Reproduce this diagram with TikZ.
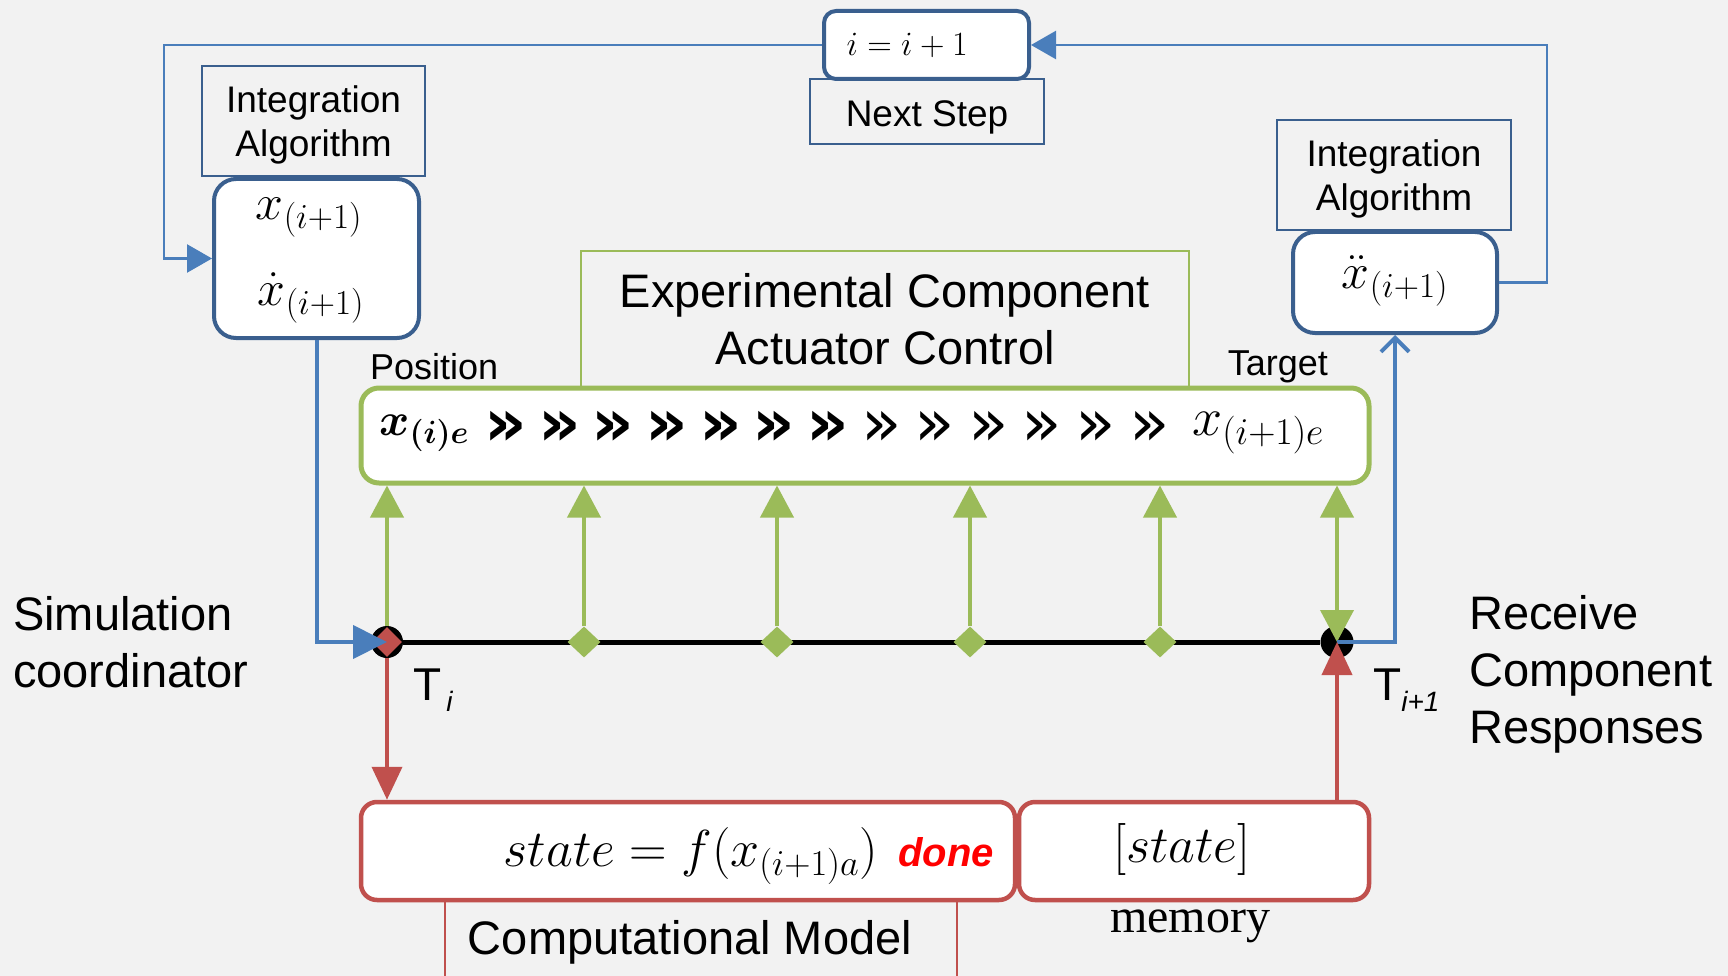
\RequirePackage{fix-cm}
\documentclass[tikz,border=0pt]{standalone}
\usepackage{amsmath}
\usepackage{bm}
\usepackage{fontspec}
\setmainfont{Liberation Sans}
\newfontfamily\seriffont{Liberation Serif}
\newfontfamily\chevfont{DejaVu Sans}
\usetikzlibrary{arrows.meta,shapes.geometric}
\definecolor{bgc}{HTML}{F2F2F2}
\definecolor{dblue}{HTML}{3A5F8E}
\definecolor{lblue}{HTML}{4A7EBB}
\definecolor{grn}{HTML}{9BBB59}
\definecolor{rd}{HTML}{C0504D}
\definecolor{donered}{HTML}{FF0000}
\tikzset{
  rbox/.style={draw=dblue, line width=4pt, fill=white, rounded corners=22pt, inner sep=0pt},
  sqbox/.style={draw=dblue, line width=2pt, inner sep=0pt, align=center, font=\fontsize{37}{44}\selectfont},
  gbox/.style={draw=grn, line width=5pt, fill=white, rounded corners=18pt, inner sep=0pt},
  redbox/.style={draw=rd, line width=4.5pt, fill=white, rounded corners=16pt, inner sep=0pt},
  bline/.style={draw=lblue, line width=2.5pt},
  barrow/.style={bline, -{Triangle[length=25pt,width=28pt]}},
  garrow/.style={draw=grn, line width=4pt, -{Triangle[length=32pt,width=33pt]}},
  rarrow/.style={draw=rd, line width=4pt, -{Triangle[length=33pt,width=30pt]}},
  big/.style={font=\fontsize{47}{57}\selectfont},
  mid/.style={font=\fontsize{36}{42}\selectfont},
  bigmath/.style={font=\fontsize{50}{56}\selectfont, inner sep=0pt},
  chev/.style={inner sep=0pt},
}
\begin{document}
\begin{tikzpicture}[x=1pt,y=-1pt]
\clip (0,0) rectangle (1728,976);
\fill[bgc] (0,0) rectangle (1728,976);

% top: next step
\node[sqbox, minimum width=234pt, minimum height=65pt] (next) at (927,111.5) {};
\node[font=\fontsize{37}{44}\selectfont] (nextt) at (927,117) {Next Step};
\node[rbox, rounded corners=12pt, minimum width=205pt, minimum height=68pt, text width=160pt, align=left, font=\fontsize{34}{40}\selectfont] (inc) at (926.5,45) {$i=i+1$};

% left integration
\node[sqbox, minimum width=223pt, minimum height=110pt] (intL) at (313.5,121) {};
\node[sqbox, draw=none] (intLt) at (313.5,125) {Integration\\Algorithm};
\node[rbox, minimum width=205pt, minimum height=159pt] (boxL) at (316.5,258.5) {};
\node[bigmath] (xL) at (309,218) {$x_{(i+1)}$};
\node[bigmath] (xdL) at (311,298) {$\dot{x}_{(i+1)}$};

% right integration
\node[sqbox, minimum width=234pt, minimum height=110pt] (intR) at (1394,175) {};
\node[sqbox, draw=none] (intRt) at (1394,179) {Integration\\Algorithm};
\node[rbox, minimum width=204pt, minimum height=101pt] (boxR) at (1395,282.5) {};
\node[bigmath] (xddR) at (1395,281) {$\ddot{x}_{(i+1)}$};

% feedback loop
\draw[barrow] (boxR.east) -- ++(48,0) |- (inc.east);
\draw[barrow] (inc.west) -- ++(-658,0) |- (boxL.west);

% experimental component
\node[draw=grn, line width=1.5pt, minimum width=608pt, minimum height=137pt, align=center, big] (exp) at (885,319.5) {Experimental Component\\Actuator Control};
\node[mid, anchor=west, inner sep=0pt] (pos) at (370,367) {Position};
\node[mid, anchor=east, inner sep=0pt] (tgt) at (1328,367) {Target};
\node[gbox, minimum width=1008pt, minimum height=95pt] (gb) at (865,435.5) {};
\node[font=\fontsize{46}{50}\selectfont, anchor=west, inner sep=0pt] (xie) at (379,433) {$\bm{x}_{\bm{(i)e}}$};
\node[font=\fontsize{54}{58}\selectfont, anchor=west, inner sep=0pt] (xi1e) at (1192,433) {$x_{(i+1)e}$};
\foreach \k in {1,...,7}
  \node[chev, font=\fontsize{66}{70}\chevfont\bfseries] (ch\k) at ({506+53.6*(\k-1)},428) {»};
\foreach \k in {8,...,13}
  \node[chev, font=\fontsize{66}{70}\chevfont] (ch\k) at ({506+53.6*(\k-1)},428) {»};

% computational model frame
\node[draw=rd, line width=1.5pt, minimum width=512pt, minimum height=110pt, inner sep=0pt] (cmf) at (701,955) {};
\node[big] (cmt) at (690,942) {Computational Model};

% red boxes
\node[redbox, minimum width=654pt, minimum height=98pt] (comp) at (688,851) {};
\node[redbox, minimum width=350pt, minimum height=98pt] (mem) at (1194,851) {};
\node[font=\fontsize{52}{56}\selectfont, anchor=base east, inner sep=0pt] (eq) at (878,866) {$state = f(x_{(i+1)a})$};
\node[font=\fontsize{40}{44}\selectfont\bfseries\itshape, text=donered, anchor=base west, inner sep=0pt] (done) at (898,866) {done};
\node[font=\fontsize{52}{56}\selectfont, anchor=base, inner sep=0pt] (st) at (1182,862) {$[state]$};
\node[font=\fontsize{48}{52}\seriffont, anchor=base, inner sep=0pt] (memt) at (1190,932) {memory};

% timeline
\node[circle, fill=black, minimum size=32pt, inner sep=0pt] (Ti) at (387,642) {};
\node[diamond, fill=rd, minimum width=30pt, minimum height=30pt, inner sep=0pt] (Tid) at (387,642) {};
\node[ellipse, fill=black, minimum width=33pt, minimum height=32pt, inner sep=0pt] (Ti1) at (1337,642) {};
\draw[line width=5pt] (Ti.east) -- (Ti1.west);
\foreach \n/\x in {d1/584, d2/777, d3/970, d4/1160}
  \node[diamond, fill=grn, minimum width=33pt, minimum height=31pt, inner sep=0pt] (\n) at (\x,642) {};

% green arrows
\draw[garrow] (Ti.north) -- (Ti.north |- gb.south);
\foreach \n in {d1,d2,d3,d4}
  \draw[garrow] (\n.north) -- (\n.north |- gb.south);
\draw[draw=grn, line width=4pt, {Triangle[length=32pt,width=33pt]}-{Triangle[length=32pt,width=33pt]}] (Ti1.center) -- (Ti1.center |- gb.south);

% blue arrows on timeline
\draw[draw=lblue, line width=4pt, -{Triangle[length=34pt,width=33pt]}] (boxL.south) |- (Ti.center);
\draw[draw=lblue, line width=4pt, -{Straight Barb[length=14pt,width=28pt]}] (Ti1.center) -| (boxR.south);

% red arrows
\draw[rarrow] (Ti.south) -- (Ti.south |- comp.north);
\draw[rarrow] (mem.north -| Ti1.center) -- (Ti1.center);

% side labels
\node[big, align=left, anchor=west, inner sep=0pt] (sim) at (13,642) {Simulation\\coordinator};
\node[big, align=left, anchor=west, inner sep=0pt] (rcv) at (1469,674) {Receive\\Component\\Responses};
\node[anchor=base west, inner sep=0pt, font=\fontsize{46}{50}\selectfont] (Tl) at (413,700) {T\hspace{5pt}\raisebox{-11pt}{\fontsize{28}{30}\selectfont\itshape i}};
\node[anchor=base west, inner sep=0pt, font=\fontsize{46}{50}\selectfont] (Tl1) at (1373,700) {T\raisebox{-11pt}{\fontsize{28}{30}\selectfont\itshape i+1}};
\end{tikzpicture}
\end{document}
